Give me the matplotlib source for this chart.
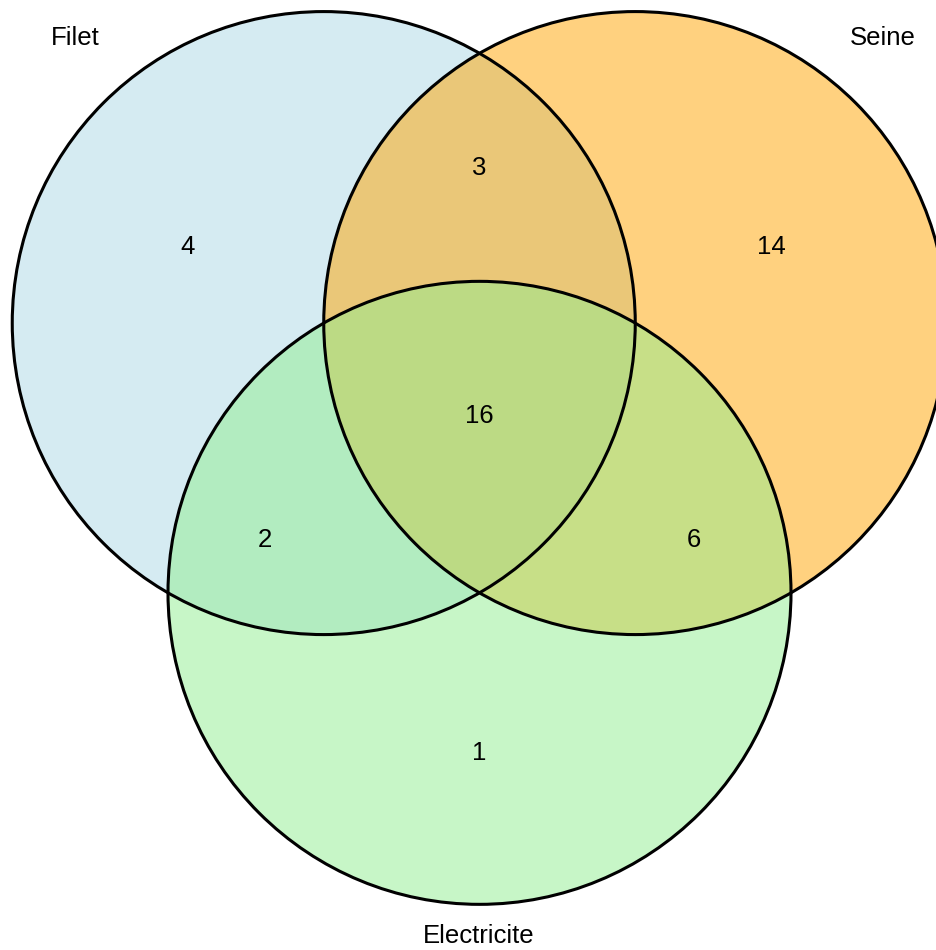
import numpy as np
import matplotlib.pyplot as plt
from matplotlib.patches import Circle

plt.rcParams['font.family'] = ['Liberation Sans', 'DejaVu Sans']

set_names = ["Filet", "Seine", "Electricite"]
set_colors = ["lightblue", "orange", "lightgreen"]
# region counts: only one set, pairs, all three
only_counts = [4, 14, 1]            # Filet, Seine, Electricite
pair_counts = [3, 6, 2]             # Filet&Seine, Seine&Elec, Elec&Filet
triple_count = 16

W, H = 936, 950
R = 311.5
centroid = np.array([479.5, 413.0])
# direction of each circle centre from the centroid (screen coords, y down)
angles = np.radians([150, 30, 270])
dirs = np.array([[np.cos(a), -np.sin(a)] for a in angles])
centers = centroid + dirs * R / np.sqrt(3)

fig = plt.figure(figsize=(W / 100, H / 100), dpi=100)
ax = fig.add_axes([0, 0, 1, 1])
ax.set_xlim(0, W)
ax.set_ylim(H, 0)
ax.axis('off')

for c, col in zip(centers, set_colors):
    ax.add_patch(Circle(c, R, facecolor=col, alpha=0.5, edgecolor='none', zorder=1))
for c in centers:
    ax.add_patch(Circle(c, R, facecolor='none', edgecolor='black', lw=2.2, zorder=2))

fs = 18.5
dy = 3  # small nudge so glyphs sit where the original puts them
for d, n in zip(dirs, only_counts):
    p = centroid + d * 1.083 * R
    ax.text(p[0], p[1] + dy, str(n), ha='center', va='center', fontsize=fs, zorder=3)

for i, n in enumerate(pair_counts):
    d = dirs[i] + dirs[(i + 1) % 3]
    d = d / np.linalg.norm(d)
    p = centroid + d * 0.795 * R
    ax.text(p[0], p[1] + dy, str(n), ha='center', va='center', fontsize=fs, zorder=3)

ax.text(centroid[0], centroid[1] + dy, str(triple_count), ha='center', va='center', fontsize=fs, zorder=3)

label_pos = [(75, 37), (883, 37), (479, 935)]
for (x, y), name in zip(label_pos, set_names):
    ax.text(x, y + 1, name, ha='center', va='center', fontsize=fs, zorder=3)

fig.savefig('out.png', dpi=100)
